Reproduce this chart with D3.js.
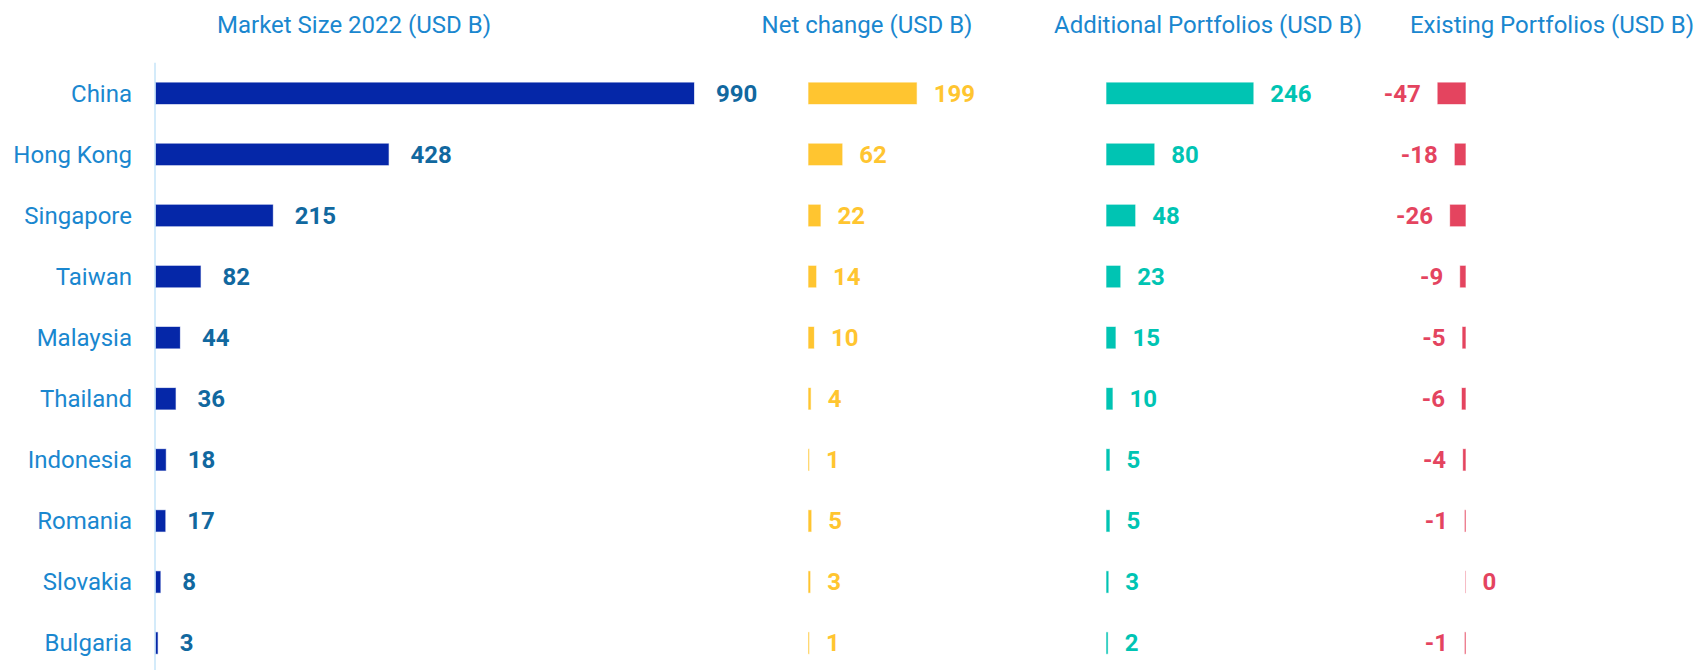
<!DOCTYPE html>
<html>
<head>
<meta charset="utf-8">
<script src="https://cdn.jsdelivr.net/npm/d3@7"></script>
<style>
  body { margin: 0; background: #fff; }
  svg { display: block; font-family: Roboto, "Noto Sans", sans-serif; }
</style>
</head>
<body>
<svg id="chart" width="1697" height="670"></svg>
<script>
// data
var countries = ['China', 'Hong Kong', 'Singapore', 'Taiwan', 'Malaysia', 'Thailand', 'Indonesia', 'Romania', 'Slovakia', 'Bulgaria'];
var marketSize = [990, 428, 215, 82, 44, 36, 18, 17, 8, 3];
var netChange = [199, 62, 22, 14, 10, 4, 1, 5, 3, 1];
var additional = [246, 80, 48, 23, 15, 10, 5, 5, 3, 2];
var existing = [-47, -18, -26, -9, -5, -6, -4, -1, 0, -1];
var titles = ['Market Size 2022 (USD B)', 'Net change (USD B)', 'Additional Portfolios (USD B)', 'Existing Portfolios (USD B)'];

var svg = d3.select('#chart');
var labelBlue = '#1a87cf';

var y = d3.scaleBand().domain(countries).range([62.8, 673.6]).paddingInner(0.65).paddingOuter(0.325);

// each column: scale, values, colours
var columns = [
  { values: marketSize, x: d3.scaleLinear().domain([0, 990]).range([156, 694]), fill: '#0527a8', text: '#11689f', gap: 22, title: 354 },
  { values: netChange,  x: d3.scaleLinear().domain([0, 990]).range([808.5, 1346.5]), fill: '#ffc530', text: '#ffc530', gap: 17, title: 867 },
  { values: additional, x: d3.scaleLinear().domain([0, 246]).range([1106.5, 1253.3]), fill: '#00c4b3', text: '#00c4b3', gap: 17, title: 1208 },
  { values: existing,   x: d3.scaleLinear().domain([-47, 0]).range([1437.7, 1465.5]), fill: '#e4445f', text: '#e4445f', gap: 17, title: 1552 }
];

// titles
svg.append('g').selectAll('text')
  .data(columns)
  .enter().append('text')
  .attr('x', function (d) { return d.title; })
  .attr('y', 33)
  .attr('text-anchor', 'middle')
  .attr('fill', labelBlue)
  .attr('font-size', 24)
  .text(function (d, i) { return titles[i]; });

// left axis line
svg.append('line')
  .attr('x1', 155).attr('x2', 155)
  .attr('y1', y.range()[0]).attr('y2', 670)
  .attr('stroke', '#c6e4f8')
  .attr('stroke-width', 1.5);

// category labels
svg.append('g').selectAll('text')
  .data(countries)
  .enter().append('text')
  .attr('x', 132)
  .attr('y', function (d) { return y(d) + y.bandwidth() / 2; })
  .attr('dy', '0.35em')
  .attr('text-anchor', 'end')
  .attr('fill', labelBlue)
  .attr('font-size', 24)
  .text(function (d) { return d; });

columns.forEach(function (col) {
  var x = col.x;
  var rows = countries.map(function (c, i) { return { name: c, v: col.values[i] }; });
  var g = svg.append('g');

  g.selectAll('rect')
    .data(rows)
    .enter().append('rect')
    .attr('x', function (d) { return Math.min(x(0), x(d.v)); })
    .attr('y', function (d) { return y(d.name); })
    .attr('width', function (d) { return Math.max(0.01, Math.abs(x(d.v) - x(0))); }) // keep zero bars visible as a hairline
    .attr('height', y.bandwidth())
    .attr('fill', col.fill)
    .attr('stroke', col.fill)
    .attr('stroke-opacity', 0.35)
    .attr('stroke-width', 1);

  g.selectAll('text')
    .data(rows)
    .enter().append('text')
    .attr('x', function (d) { return d.v < 0 ? x(d.v) - col.gap : x(d.v) + col.gap; })
    .attr('y', function (d) { return y(d.name) + y.bandwidth() / 2; })
    .attr('dy', '0.35em')
    .attr('text-anchor', function (d) { return d.v < 0 ? 'end' : 'start'; })
    .attr('fill', col.text)
    .attr('font-size', 24)
    .attr('font-weight', 'bold')
    .text(function (d) { return d.v; });
});
</script>
</body>
</html>
